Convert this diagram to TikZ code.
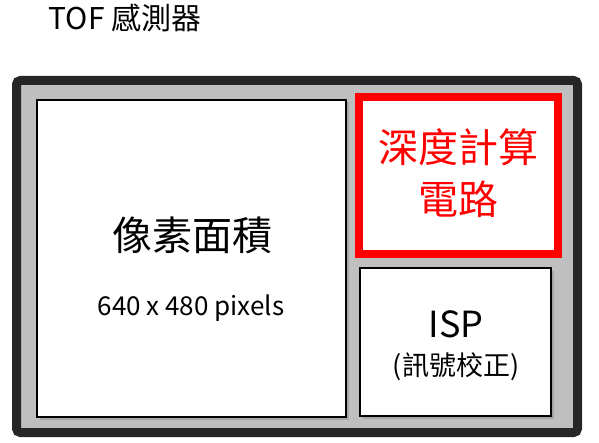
\documentclass[tikz,border=0pt]{standalone}
\usepackage{xcolor}
\usepackage{fontspec}
\setmainfont{Noto Sans CJK TC}
\usepackage{tikz}
\usetikzlibrary{shapes,shadows,positioning,calc}

\definecolor{framegray}{HTML}{BFBFBF}
\definecolor{framedark}{HTML}{262626}
\definecolor{depthred}{HTML}{FF0000}

\begin{document}
\begin{tikzpicture}[x=1pt,y=1pt]
  % Define styles
  \tikzstyle{chip} = [rectangle, draw=framedark, fill=framegray, line width=9pt, rounded corners=4pt, minimum width=561pt, minimum height=352pt, drop shadow={opacity=0.3, shadow xshift=2pt, shadow yshift=-2pt}]
  \tikzstyle{block} = [rectangle, draw, fill=white, line width=1.5pt, drop shadow={opacity=0.4, shadow xshift=2.5pt, shadow yshift=-2.5pt}]
  \tikzstyle{hotblock} = [rectangle, draw=depthred, fill=white, line width=8pt]
  \tikzstyle{big} = [font=\fontsize{40}{52}\selectfont, align=center]
  \useasboundingbox (0,0) rectangle (599,442);

  % Title
  \node [font=\fontsize{30}{34}\selectfont] (title) at (125,424) {TOF 感測器};

  % Sensor frame and its blocks
  \node [chip] (sensor) at (297,185.5) {};
  \node [block, minimum width=309pt, minimum height=317pt] (pixel) at (191.5,183.5) {};
  \node [hotblock, minimum width=199pt, minimum height=157pt] (depth) at (458.5,266.5) {};
  \node [block, minimum width=191pt, minimum height=148pt] (isp) at (455.5,100) {};

  % Texts
  \node [big] (pixeltxt) at (192,207) {像素面積};
  \node [font=\fontsize{26}{30}\selectfont] (pixelres) at (191,134) {640 x 480 pixels};
  \node [big, text=depthred] (depthtxt) at (458,269) {深度計算\\電路};
  \node [font=\fontsize{36}{40}\selectfont] (isptxt) at (456,118) {ISP};
  \node [font=\fontsize{27}{30}\selectfont] (ispsub) at (456,75) {(訊號校正)};

\end{tikzpicture}
\end{document}
